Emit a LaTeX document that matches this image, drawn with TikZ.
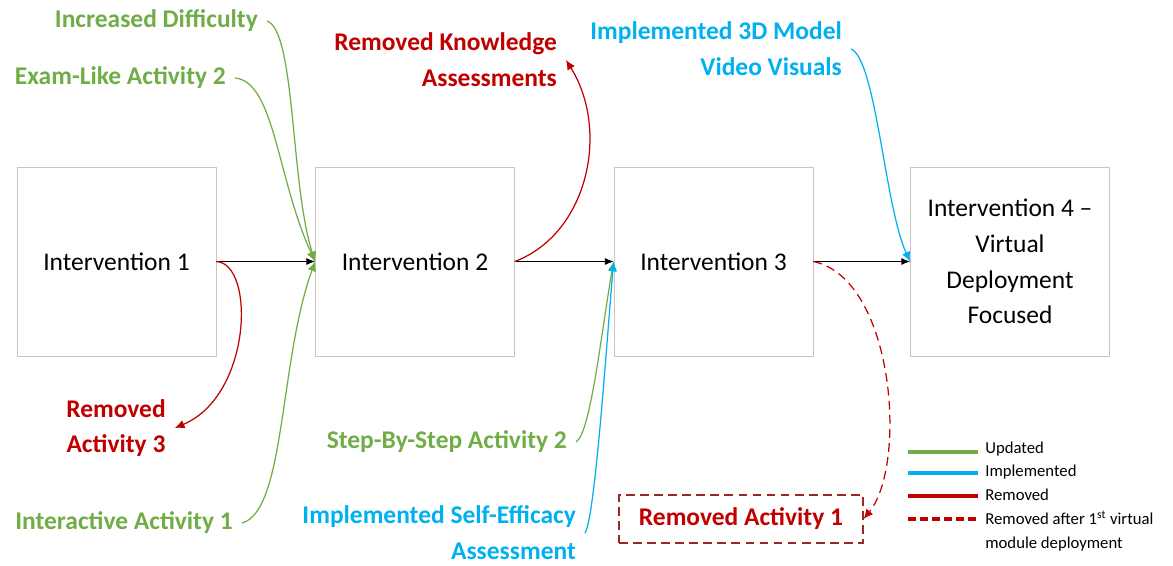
\documentclass[tikz,border=0pt]{standalone}
\usepackage{fontspec}
\setmainfont{Carlito}
\usetikzlibrary{arrows.meta}

\definecolor{upd}{RGB}{112,173,71}
\definecolor{impl}{RGB}{0,176,240}
\definecolor{rem}{RGB}{192,0,0}
\definecolor{remframe}{RGB}{150,40,40}

\begin{document}
\begin{tikzpicture}[x=0.02cm,y=0.02cm,
  box/.style={draw=gray!45, minimum width=3.98cm, minimum height=3.78cm,
    align=center, font=\fontsize{14.5}{20.4}\selectfont},
  lbl/.style={font=\fontsize{14.5}{20.4}\selectfont\bfseries, inner sep=5pt, align=right},
  key/.style={font=\fontsize{9.5}{13.6}\selectfont, inner sep=0pt, align=left, anchor=west},
  flow/.style={-{Latex[length=5pt,width=4pt]}, line width=0.6pt},
  chg/.style={-{Latex[length=5.5pt,width=5pt]}, line width=0.7pt}]
\useasboundingbox (0,0) rectangle (1173,-565);

% the four interventions
\node [box] (n1) at (116.5,-261.5) {Intervention 1};
\node [box] (n2) at (415,-261.5) {Intervention 2};
\node [box] (n3) at (713.5,-261.5) {Intervention 3};
\node [box] (n4) at (1010,-261.5) {Intervention 4 --\\Virtual\\Deployment\\Focused};

\draw [flow] (n1.east) -- (n2.west);
\draw [flow] (n2.east) -- (n3.west);
\draw [flow] (n3.east) -- (n4.west);

% changes going into / out of each step
\node [lbl, text=upd, anchor=east] (incdiff) at (267,-21) {Increased Difficulty};
\node [lbl, text=upd, anchor=east] (examlike) at (235,-78) {Exam-Like Activity 2};
\node [lbl, text=upd, anchor=east] (inter1) at (242,-523) {Interactive Activity 1};
\node [lbl, text=rem, align=center] (remact3) at (116,-428) {Removed\\Activity 3};
\node [lbl, text=rem, anchor=east] (remknow) at (566,-60) {Removed Knowledge\\Assessments};
\node [lbl, text=impl, anchor=east] (vid3d) at (851,-49) {Implemented 3D Model\\Video Visuals};
\node [lbl, text=upd, anchor=east] (step2) at (576,-442) {Step-By-Step Activity 2};
\node [lbl, text=impl, anchor=east] (selfeff) at (585,-533) {Implemented Self-Efficacy\\Assessment};
\node [lbl, text=rem, draw=remframe, line width=0.7pt, dash pattern=on 5pt off 3pt,
  minimum width=4.88cm, minimum height=0.96cm, align=center] (remact1) at (741,-519) {Removed Activity 1};

\draw [upd, chg] (incdiff.east) to[out=-18, in=108, out distance=0.6cm, in distance=1.6cm] (n2.west);
\draw [upd, chg] (examlike.east) to[out=-5, in=115, out distance=0.8cm, in distance=1.8cm] (n2.west);
\draw [upd, chg] (inter1.east) to[out=15, in=250, out distance=0.9cm, in distance=2.1cm] (n2.west);
\draw [rem, chg] (n1.east) to[out=-3, in=23, out distance=0.78cm, in distance=1.68cm] (remact3.east);
\draw [rem, chg] (n2.east) to[out=21, in=-58, out distance=1.58cm, in distance=1.65cm] (remknow.east);
\draw [impl, chg] (vid3d.east) to[out=-22, in=115, out distance=0.54cm, in distance=1.2cm] (n4.west);
\draw [upd, chg] (step2.east) to[out=30, in=-100, out distance=0.34cm, in distance=1.4cm] (n3.west);
\draw [impl, chg] (selfeff.east) to[out=56, in=-95, out distance=0.36cm, in distance=1.6cm] (n3.west);
\draw [rem, chg, dash pattern=on 5pt off 3pt] (n3.east) to[out=-12, in=51, out distance=1.66cm, in distance=1.4cm] (remact1.east);

% legend
\draw [upd, line width=2.8pt] (908,-452) -- (978,-452);
\draw [impl, line width=2.8pt] (908,-473) -- (978,-473);
\draw [rem, line width=2.8pt] (908,-496) -- (978,-496);
\draw [rem, line width=2.8pt, dash pattern=on 4.5pt off 2.3pt] (908,-519) -- (978,-519);
\node [key] (kupd) at (985,-449) {Updated};
\node [key] (kimpl) at (985,-472) {Implemented};
\node [key] (krem) at (985,-495) {Removed};
\node [key] (kvirt) at (985,-531) {Removed after 1\textsuperscript{st} virtual\\module deployment};
\end{tikzpicture}
\end{document}
